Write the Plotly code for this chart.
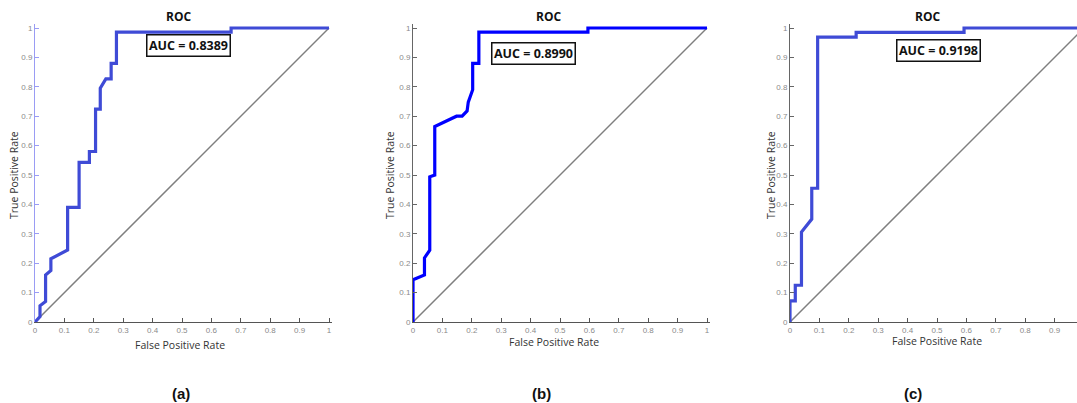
import plotly.graph_objects as go

# ---------------- data ----------------
fpr_a = [0, 0.017, 0.017, 0.036, 0.036, 0.054, 0.054, 0.111, 0.111, 0.150, 0.150, 0.185, 0.185,
         0.206, 0.206, 0.222, 0.222, 0.241, 0.259, 0.259, 0.277, 0.277, 0.667, 0.667, 1.0]
tpr_a = [0, 0.018, 0.055, 0.07, 0.16, 0.175, 0.215, 0.245, 0.39, 0.39, 0.543, 0.543, 0.58,
         0.58, 0.724, 0.724, 0.795, 0.827, 0.827, 0.88, 0.88, 0.986, 0.986, 1.0, 1.0]

fpr_b = [0, 0, 0.039, 0.039, 0.057, 0.057, 0.074, 0.074, 0.148, 0.167, 0.184, 0.188, 0.203,
         0.203, 0.224, 0.224, 0.595, 0.595, 1.0]
tpr_b = [0, 0.144, 0.16, 0.218, 0.244, 0.494, 0.5, 0.665, 0.70, 0.70, 0.718, 0.748, 0.79,
         0.88, 0.88, 0.986, 0.986, 1.0, 1.0]

fpr_c = [0, 0, 0.018, 0.018, 0.039, 0.039, 0.074, 0.074, 0.094, 0.094, 0.225, 0.225, 0.592, 0.592, 1.0]
tpr_c = [0, 0.072, 0.072, 0.125, 0.125, 0.306, 0.35, 0.455, 0.455, 0.969, 0.969, 0.985, 0.985, 1.0, 1.0]

chance = [0, 1]

auc_labels = ["AUC = 0.8389", "AUC = 0.8990", "AUC = 0.9198"]
panel_labels = ["(a)", "(b)", "(c)"]
tick_vals = [0, 0.1, 0.2, 0.3, 0.4, 0.5, 0.6, 0.7, 0.8, 0.9, 1]
tick_text = ["0", "0.1", "0.2", "0.3", "0.4", "0.5", "0.6", "0.7", "0.8", "0.9", "1"]

# ---------------- layout geometry (pixels) ----------------
W, H = 1077, 403
SCALE = 294.0
Y0 = 322.0
panels = [
    dict(x0=35, fpr=fpr_a, tpr=tpr_a, color="#3f4bd6", yline="#9a9cf4",
         title_x=178, auc_x=188, auc_y=46, xt_x=180, xt_y=345, yt_x=14, lab_x=181),
    dict(x0=413, fpr=fpr_b, tpr=tpr_b, color="#0000ff", yline="#666666",
         title_x=548, auc_x=533, auc_y=53, xt_x=554, xt_y=342, yt_x=390, lab_x=541),
    dict(x0=790, fpr=fpr_c, tpr=tpr_c, color="#3f4bd6", yline="#666666",
         title_x=927, auc_x=938, auc_y=50, xt_x=937, xt_y=341, yt_x=771, lab_x=913),
]

def px_x(p):
    return p / W

def px_y(p):
    return 1 - p / H

fig = go.Figure()
annotations = []
YTOP = 1.012
FONT = "Open Sans, Liberation Sans, Arial"
for i, p in enumerate(panels):
    n = "" if i == 0 else str(i + 1)
    xa, ya = "x" + n, "y" + n
    x_right_px = min(p["x0"] + 1.01 * SCALE, W)
    x_max = (x_right_px - p["x0"]) / SCALE
    fig.add_trace(go.Scatter(x=chance, y=chance, mode="lines", xaxis=xa, yaxis=ya,
                             line=dict(color="#7f7f7f", width=1.5), showlegend=False, hoverinfo="skip"))
    fig.add_trace(go.Scatter(x=p["fpr"], y=p["tpr"], mode="lines", xaxis=xa, yaxis=ya,
                             line=dict(color=p["color"], width=3.2), showlegend=False))
    common = dict(tickvals=tick_vals, ticktext=tick_text, ticks="inside", ticklen=4, tickwidth=1,
                  tickfont=dict(family="Liberation Sans, Arial", size=8, color="#8a8a8a"),
                  showgrid=False, zeroline=False, showline=True, linewidth=1, fixedrange=True,
                  automargin=False)
    fig.update_layout(**{
        ("xaxis" + n): dict(domain=[px_x(p["x0"]), px_x(x_right_px)], range=[0, x_max],
                            anchor=ya, linecolor="#555555", tickcolor="#555555", **common),
        ("yaxis" + n): dict(domain=[px_y(Y0), px_y(Y0 - YTOP * SCALE)], range=[0, YTOP],
                            anchor=xa, linecolor=p["yline"], tickcolor=p["yline"], **common),
    })
    annotations += [
        dict(x=px_x(p["title_x"]), y=px_y(17), text="<b>ROC</b>", showarrow=False,
             font=dict(family=FONT, size=12, color="#111111")),
        dict(x=px_x(p["auc_x"]), y=px_y(p["auc_y"]), text="<b>" + auc_labels[i] + "</b>",
             showarrow=False, bordercolor="#111111", borderwidth=1.5, borderpad=1.5, bgcolor="white",
             font=dict(family=FONT, size=12.5, color="#111111")),
        dict(x=px_x(p["xt_x"]), y=px_y(p["xt_y"]), text="False Positive Rate", showarrow=False,
             font=dict(family=FONT, size=10.5, color="#333333")),
        dict(x=px_x(p["yt_x"]), y=px_y(175), text="True Positive Rate", showarrow=False,
             textangle=-90, font=dict(family=FONT, size=10.5, color="#333333")),
        dict(x=px_x(p["lab_x"]), y=px_y(393), text="<b>" + panel_labels[i] + "</b>", showarrow=False,
             font=dict(family="Liberation Sans, Arial", size=15, color="#111111")),
    ]
for a in annotations:
    a.update(xref="paper", yref="paper", xanchor="center", yanchor="middle")

fig.update_layout(width=W, height=H, margin=dict(l=0, r=0, t=0, b=0, autoexpand=False),
                  paper_bgcolor="white", plot_bgcolor="white", annotations=annotations)
fig.write_html("out.html", config={"displayModeBar": False},
               post_script="document.body.style.margin='0';document.body.style.overflow='hidden';")
